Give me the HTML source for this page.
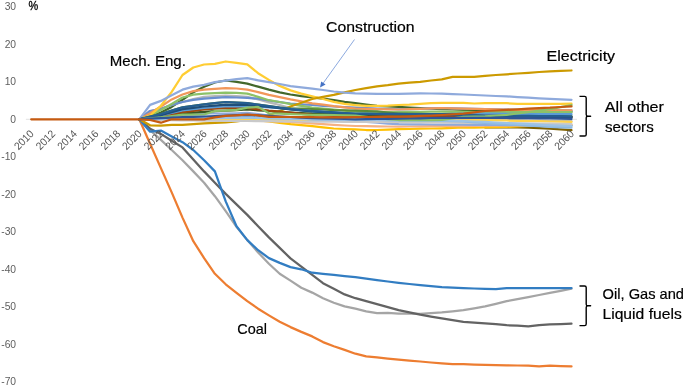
<!DOCTYPE html>
<html lang="en">
<head>
<meta charset="utf-8">
<title>Sector output chart</title>
<style>
html,body{margin:0;padding:0;background:#fff;}
body{width:685px;height:387px;overflow:hidden;}
svg{display:block;}
text{font-family:"Liberation Sans",sans-serif;}
.ax{font-size:10.3px;fill:#5e5e5e;}
.lb{font-size:15px;fill:#000;stroke:#000;stroke-width:0.2px;}
.ln{fill:none;stroke-linejoin:round;stroke-linecap:round;}
</style>
</head>
<body>
<svg width="685" height="387" viewBox="0 0 685 387">
<rect x="0" y="0" width="685" height="387" fill="#ffffff"/>
<line x1="25.9" y1="119.30" x2="577" y2="119.30" stroke="#D9D9D9" stroke-width="0.8"/>
<g class="ax" text-anchor="end">
<text x="16.1" y="10.30">30</text>
<text x="16.1" y="47.80">20</text>
<text x="16.1" y="85.30">10</text>
<text x="16.1" y="122.80">0</text>
<text x="16.1" y="160.30">-10</text>
<text x="16.1" y="197.80">-20</text>
<text x="16.1" y="235.30">-30</text>
<text x="16.1" y="272.80">-40</text>
<text x="16.1" y="310.30">-50</text>
<text x="16.1" y="347.80">-60</text>
<text x="16.1" y="385.30">-70</text>
</g>
<g class="ln">
<polyline stroke="#ED7D31" stroke-width="2.25" points="139.3,119.3 150.1,143.7 160.9,168.1 171.7,192.4 182.5,217.6 193.3,241.2 204.1,258.1 214.9,273.8 225.7,284.3 236.5,292.9 247.3,301.2 258.1,308.7 268.9,315.4 279.7,321.8 290.5,327.1 301.3,331.9 312.2,336.4 323.0,342.1 333.8,346.2 344.6,349.9 355.4,353.7 366.2,356.3 377.0,357.4 387.8,358.6 398.6,359.7 409.4,360.6 420.2,361.5 431.0,362.5 441.8,363.4 452.6,364.2 463.4,364.2 474.2,364.6 485.1,364.9 495.9,365.1 506.7,365.3 517.5,365.5 528.3,365.7 539.1,366.4 549.9,365.7 560.7,366.1 571.5,366.4"/>
<polyline stroke="#A5A5A5" stroke-width="2.25" points="139.3,119.3 150.1,130.2 160.9,139.9 171.7,150.0 182.5,160.2 193.3,171.4 204.1,182.7 214.9,196.2 225.7,211.2 236.5,226.9 247.3,240.1 258.1,252.4 268.9,263.7 279.7,273.8 290.5,280.6 301.3,287.7 312.2,292.6 323.0,298.2 333.8,302.7 344.6,306.4 355.4,308.7 366.2,311.3 377.0,313.2 387.8,312.8 398.6,313.6 409.4,313.7 420.2,313.9 431.0,313.2 441.8,312.4 452.6,311.3 463.4,310.2 474.2,308.3 485.1,306.4 495.9,303.8 506.7,301.2 517.5,299.1 528.3,297.1 539.1,295.0 549.9,292.9 560.7,290.8 571.5,288.6"/>
<polyline stroke="#636363" stroke-width="2.25" points="139.3,119.3 150.1,128.7 160.9,133.9 171.7,140.7 182.5,147.4 193.3,159.4 204.1,171.4 214.9,182.7 225.7,193.9 236.5,204.4 247.3,214.9 258.1,226.2 268.9,237.4 279.7,247.9 290.5,258.4 301.3,266.7 312.2,274.9 323.0,283.2 333.8,288.8 344.6,294.4 355.4,298.2 366.2,301.2 377.0,304.2 387.8,307.2 398.6,310.2 409.4,312.4 420.2,314.7 431.0,316.6 441.8,318.4 452.6,320.1 463.4,321.8 474.2,322.6 485.1,323.3 495.9,324.2 506.7,325.2 517.5,325.7 528.3,326.3 539.1,325.2 549.9,324.4 560.7,324.1 571.5,323.7"/>
<polyline stroke="#327DC2" stroke-width="2.25" points="139.3,119.3 150.1,131.7 160.9,130.6 171.7,136.4 182.5,142.2 193.3,150.0 204.1,160.2 214.9,171.4 225.7,201.4 236.5,226.2 247.3,240.1 258.1,250.2 268.9,258.1 279.7,262.9 290.5,267.1 301.3,269.3 312.2,272.7 323.0,273.8 333.8,274.9 344.6,276.1 355.4,277.2 366.2,278.7 377.0,280.2 387.8,281.5 398.6,282.8 409.4,284.0 420.2,285.2 431.0,286.2 441.8,287.1 452.6,287.7 463.4,288.2 474.2,288.5 485.1,288.8 495.9,289.2 506.7,288.1 517.5,288.1 528.3,288.1 539.1,288.1 549.9,288.1 560.7,288.1 571.5,288.1"/>
<polyline stroke="#7F6000" stroke-width="2.25" points="485.1,127.4 495.9,127.4 506.7,127.4 517.5,127.5 528.3,127.7 539.1,128.2 549.9,128.7 560.7,129.4 571.5,130.2"/>
<polyline stroke="#FFC000" stroke-width="2.25" points="139.3,119.3 150.1,119.5 160.9,119.7 171.7,119.7 182.5,119.7 193.3,119.7 204.1,119.8 214.9,119.8 225.7,119.8 236.5,119.8 247.3,119.9 258.1,120.4 268.9,121.4 279.7,122.9 290.5,124.2 301.3,125.1 312.2,126.2 323.0,127.4 333.8,128.5 344.6,129.0 355.4,129.4 366.2,130.0 377.0,130.0 387.8,129.6 398.6,129.2 409.4,129.0 420.2,128.7 431.0,128.5 441.8,128.3 452.6,127.9 463.4,127.5 474.2,127.5 485.1,127.4 495.9,127.1 506.7,126.8 517.5,126.4 528.3,126.0 539.1,125.9 549.9,125.7 560.7,125.5 571.5,125.3"/>
<polyline stroke="#43682B" stroke-width="2.25" points="139.3,119.3 150.1,116.3 160.9,112.5 171.7,106.9 182.5,99.8 193.3,92.3 204.1,86.7 214.9,82.5 225.7,80.5 236.5,81.8 247.3,83.7 258.1,86.7 268.9,89.7 279.7,92.3 290.5,94.5 301.3,96.2 312.2,97.4 323.0,98.7 333.8,100.2 344.6,101.9 355.4,103.2 366.2,104.5 377.0,105.8 387.8,106.4 398.6,106.9 409.4,107.5 420.2,108.0 431.0,108.6 441.8,109.2 452.6,109.5 463.4,109.9 474.2,110.1 485.1,110.3 495.9,110.5 506.7,110.7 517.5,110.9 528.3,111.0 539.1,111.2 549.9,111.4 560.7,111.6 571.5,111.8"/>
<polyline stroke="#B7B7B7" stroke-width="2.25" points="139.3,119.3 150.1,111.0 160.9,108.8 171.7,105.0 182.5,102.0 193.3,99.0 204.1,96.8 214.9,96.2 225.7,95.7 236.5,96.2 247.3,96.8 258.1,99.4 268.9,102.4 279.7,105.0 290.5,108.0 301.3,109.9 312.2,111.8 323.0,112.7 333.8,113.7 344.6,114.6 355.4,115.5 366.2,115.9 377.0,116.3 387.8,116.7 398.6,117.0 409.4,117.4 420.2,117.8 431.0,118.2 441.8,118.5 452.6,118.9 463.4,119.3 474.2,119.5 485.1,119.7 495.9,119.9 506.7,120.0 517.5,120.2 528.3,120.4 539.1,120.6 549.9,120.8 560.7,121.0 571.5,121.2"/>
<polyline stroke="#698ED0" stroke-width="2.25" points="139.3,119.3 150.1,111.0 160.9,108.8 171.7,105.0 182.5,102.0 193.3,99.8 204.1,98.7 214.9,97.9 225.7,97.2 236.5,97.5 247.3,97.9 258.1,98.7 268.9,100.5 279.7,102.2 290.5,103.5 301.3,104.3 312.2,105.0 323.0,105.8 333.8,106.5 344.6,107.1 355.4,107.7 366.2,108.1 377.0,108.6 387.8,109.0 398.6,109.4 409.4,109.1 420.2,108.8 431.0,108.4 441.8,108.0 452.6,108.3 463.4,108.6 474.2,108.8 485.1,109.0 495.9,109.3 506.7,109.5 517.5,109.8 528.3,110.1 539.1,110.2 549.9,110.2 560.7,110.3 571.5,110.3"/>
<polyline stroke="#F1975A" stroke-width="2.25" points="139.3,119.3 150.1,113.3 160.9,106.5 171.7,99.4 182.5,94.5 193.3,91.2 204.1,89.7 214.9,88.9 225.7,88.2 236.5,88.5 247.3,89.7 258.1,92.1 268.9,94.9 279.7,97.2 290.5,99.4 301.3,101.3 312.2,103.4 323.0,104.7 333.8,106.2 344.6,107.4 355.4,108.6 366.2,108.9 377.0,109.2 387.8,109.4 398.6,109.5 409.4,109.2 420.2,108.8 431.0,108.4 441.8,108.0 452.6,108.3 463.4,108.6 474.2,108.8 485.1,109.0 495.9,109.3 506.7,109.5 517.5,109.8 528.3,110.1 539.1,110.2 549.9,110.2 560.7,110.3 571.5,110.3"/>
<polyline stroke="#8CC168" stroke-width="2.25" points="139.3,119.3 150.1,115.5 160.9,110.1 171.7,103.9 182.5,97.5 193.3,94.7 204.1,93.6 214.9,93.2 225.7,92.7 236.5,92.9 247.3,93.6 258.1,96.8 268.9,100.2 279.7,102.0 290.5,104.1 301.3,105.8 312.2,107.5 323.0,108.5 333.8,109.5 344.6,110.6 355.4,111.6 366.2,111.8 377.0,112.0 387.8,112.0 398.6,112.0 409.4,111.9 420.2,111.8 431.0,111.7 441.8,111.6 452.6,111.8 463.4,111.9 474.2,112.0 485.1,112.2 495.9,112.1 506.7,112.1 517.5,112.0 528.3,112.0 539.1,112.0 549.9,112.1 560.7,112.1 571.5,112.2"/>
<polyline stroke="#FFCD33" stroke-width="2.25" points="139.3,119.3 150.1,115.5 160.9,105.8 171.7,91.9 182.5,75.0 193.3,67.5 204.1,64.5 214.9,63.8 225.7,61.5 236.5,62.9 247.3,64.4 258.1,73.2 268.9,79.9 279.7,85.9 290.5,90.4 301.3,93.6 312.2,96.4 323.0,99.0 333.8,101.9 344.6,103.9 355.4,105.2 366.2,105.8 377.0,105.8 387.8,105.6 398.6,105.0 409.4,104.7 420.2,103.9 431.0,103.2 441.8,102.8 452.6,102.8 463.4,102.8 474.2,103.5 485.1,103.2 495.9,103.2 506.7,103.2 517.5,103.9 528.3,103.9 539.1,103.9 549.9,103.9 560.7,103.8 571.5,103.7"/>
<polyline stroke="#CC9A00" stroke-width="2.25" points="139.3,119.3 150.1,125.3 160.9,125.7 171.7,124.9 182.5,124.9 193.3,124.2 204.1,123.4 214.9,122.9 225.7,122.3 236.5,121.4 247.3,120.0 258.1,118.2 268.9,115.2 279.7,111.0 290.5,106.5 301.3,102.8 312.2,99.0 323.0,96.8 333.8,94.9 344.6,92.3 355.4,90.0 366.2,88.2 377.0,86.3 387.8,85.2 398.6,83.7 409.4,82.7 420.2,81.8 431.0,80.5 441.8,79.4 452.6,76.9 463.4,76.9 474.2,76.9 485.1,75.8 495.9,75.0 506.7,74.3 517.5,73.5 528.3,72.8 539.1,72.0 549.9,71.3 560.7,70.9 571.5,70.5"/>
<polyline stroke="#8FAADC" stroke-width="2.25" points="139.3,119.3 150.1,104.9 160.9,100.9 171.7,95.3 182.5,89.7 193.3,86.7 204.1,84.8 214.9,82.2 225.7,80.7 236.5,79.2 247.3,78.2 258.1,80.3 268.9,82.2 279.7,84.0 290.5,86.1 301.3,87.4 312.2,88.7 323.0,90.0 333.8,91.5 344.6,92.7 355.4,93.4 366.2,93.6 377.0,93.8 387.8,93.8 398.6,93.8 409.4,93.6 420.2,93.4 431.0,93.5 441.8,93.6 452.6,94.1 463.4,94.5 474.2,95.0 485.1,95.5 495.9,96.0 506.7,96.4 517.5,97.1 528.3,97.7 539.1,98.3 549.9,98.9 560.7,99.3 571.5,99.8"/>
<polyline stroke="#5A8A39" stroke-width="2.25" points="139.3,119.3 150.1,116.7 160.9,114.0 171.7,110.7 182.5,107.3 193.3,105.8 204.1,104.3 214.9,103.2 225.7,102.0 236.5,102.6 247.3,103.2 258.1,104.7 268.9,106.2 279.7,107.7 290.5,108.4 301.3,108.6 312.2,109.0 323.0,109.5 333.8,110.1 344.6,110.4 355.4,110.7 366.2,111.0 377.0,111.4 387.8,112.5 398.6,113.5 409.4,113.7 420.2,113.9 431.0,114.0 441.8,114.0 452.6,114.4 463.4,114.8 474.2,115.2 485.1,115.5 495.9,115.6 506.7,115.7 517.5,115.8 528.3,115.9 539.1,116.0 549.9,116.1 560.7,116.2 571.5,116.3"/>
<polyline stroke="#F4B183" stroke-width="2.25" points="139.3,119.3 150.1,119.4 160.9,119.5 171.7,119.6 182.5,119.8 193.3,119.9 204.1,120.0 214.9,120.1 225.7,120.2 236.5,120.3 247.3,120.4 258.1,120.8 268.9,121.2 279.7,121.5 290.5,121.9 301.3,122.7 312.2,123.4 323.0,124.2 333.8,124.9 344.6,125.5 355.4,126.0 366.2,126.2 377.0,126.4 387.8,126.5 398.6,126.6 409.4,126.5 420.2,126.3 431.0,126.2 441.8,126.0 452.6,126.0 463.4,126.0 474.2,125.9 485.1,125.7 495.9,125.6 506.7,125.5 517.5,125.4 528.3,125.3 539.1,125.2 549.9,125.1 560.7,125.0 571.5,124.9"/>
<polyline stroke="#FFD34D" stroke-width="2.25" points="139.3,119.3 150.1,119.3 160.9,119.4 171.7,119.4 182.5,119.5 193.3,119.5 204.1,119.5 214.9,119.6 225.7,119.6 236.5,119.6 247.3,119.7 258.1,119.8 268.9,119.8 279.7,119.9 290.5,120.0 301.3,120.0 312.2,120.1 323.0,120.2 333.8,120.3 344.6,120.3 355.4,120.4 366.2,120.4 377.0,120.4 387.8,120.4 398.6,120.4 409.4,120.4 420.2,120.4 431.0,120.4 441.8,120.4 452.6,120.4 463.4,120.4 474.2,120.2 485.1,120.0 495.9,120.3 506.7,120.5 517.5,120.8 528.3,121.0 539.1,121.2 549.9,121.5 560.7,121.7 571.5,121.9"/>
<polyline stroke="#8FAADC" stroke-width="2.25" points="139.3,119.3 150.1,118.2 160.9,117.0 171.7,115.9 182.5,114.8 193.3,114.0 204.1,113.3 214.9,113.5 225.7,113.7 236.5,113.3 247.3,112.9 258.1,114.2 268.9,115.5 279.7,116.5 290.5,117.4 301.3,118.4 312.2,119.3 323.0,119.8 333.8,120.2 344.6,120.7 355.4,121.2 366.2,121.9 377.0,122.7 387.8,123.6 398.6,124.2 409.4,124.3 420.2,124.4 431.0,124.5 441.8,124.5 452.6,124.6 463.4,124.7 474.2,124.8 485.1,124.9 495.9,125.0 506.7,125.1 517.5,125.2 528.3,125.3 539.1,125.4 549.9,125.5 560.7,125.6 571.5,125.7"/>
<polyline stroke="#C9C9C9" stroke-width="2.25" points="139.3,119.3 150.1,119.6 160.9,119.9 171.7,120.1 182.5,120.4 193.3,120.5 204.1,120.6 214.9,120.7 225.7,120.8 236.5,120.9 247.3,121.0 258.1,121.1 268.9,121.2 279.7,121.3 290.5,121.4 301.3,121.5 312.2,121.5 323.0,121.6 333.8,121.7 344.6,121.8 355.4,121.9 366.2,121.9 377.0,121.9 387.8,121.9 398.6,121.9 409.4,122.1 420.2,122.2 431.0,122.3 441.8,122.5 452.6,122.6 463.4,122.8 474.2,122.9 485.1,123.0 495.9,123.1 506.7,123.2 517.5,123.3 528.3,123.4 539.1,123.6 549.9,123.7 560.7,123.8 571.5,124.0"/>
<polyline stroke="#8CB9E2" stroke-width="2.25" points="139.3,119.3 150.1,119.1 160.9,118.9 171.7,118.7 182.5,118.5 193.3,118.4 204.1,118.2 214.9,118.0 225.7,117.8 236.5,117.6 247.3,117.4 258.1,117.8 268.9,118.2 279.7,118.5 290.5,118.9 301.3,119.0 312.2,119.2 323.0,119.3 333.8,119.4 344.6,119.5 355.4,119.7 366.2,119.9 377.0,120.0 387.8,120.2 398.6,120.4 409.4,120.5 420.2,120.6 431.0,120.7 441.8,120.8 452.6,121.2 463.4,121.5 474.2,122.3 485.1,123.0 495.9,123.7 506.7,124.4 517.5,125.0 528.3,125.7 539.1,126.2 549.9,126.8 560.7,127.3 571.5,127.7"/>
<polyline stroke="#9DC3E6" stroke-width="2.25" points="139.3,119.3 150.1,119.1 160.9,118.9 171.7,118.7 182.5,118.5 193.3,118.4 204.1,118.2 214.9,118.0 225.7,117.8 236.5,117.6 247.3,117.4 258.1,117.8 268.9,118.2 279.7,118.5 290.5,118.9 301.3,119.0 312.2,119.2 323.0,119.3 333.8,119.4 344.6,119.5 355.4,119.7 366.2,119.9 377.0,120.0 387.8,120.2 398.6,120.4 409.4,120.4 420.2,120.4 431.0,120.4 441.8,120.4 452.6,120.7 463.4,121.0 474.2,121.5 485.1,121.9 495.9,122.5 506.7,123.0 517.5,123.6 528.3,124.2 539.1,124.7 549.9,125.3 560.7,125.7 571.5,126.0"/>
<polyline stroke="#385723" stroke-width="2.25" points="139.3,119.3 150.1,118.2 160.9,117.0 171.7,115.4 182.5,113.7 193.3,112.7 204.1,111.8 214.9,111.2 225.7,110.7 236.5,110.1 247.3,109.5 258.1,110.3 268.9,111.0 279.7,111.8 290.5,112.5 301.3,113.1 312.2,113.7 323.0,114.0 333.8,114.2 344.6,114.5 355.4,114.8 366.2,114.9 377.0,115.0 387.8,115.0 398.6,115.1 409.4,115.2 420.2,115.2 431.0,115.3 441.8,115.4 452.6,115.5 463.4,115.5 474.2,115.7 485.1,115.8 495.9,116.0 506.7,116.1 517.5,116.3 528.3,116.5 539.1,116.6 549.9,116.8 560.7,116.9 571.5,117.0"/>
<polyline stroke="#9E480E" stroke-width="2.25" points="139.3,119.3 150.1,117.8 160.9,116.3 171.7,114.2 182.5,112.2 193.3,110.8 204.1,109.4 214.9,108.7 225.7,108.0 236.5,107.7 247.3,108.0 258.1,109.4 268.9,110.7 279.7,111.7 290.5,112.7 301.3,113.8 312.2,114.8 323.0,115.4 333.8,115.9 344.6,116.5 355.4,117.0 366.2,117.0 377.0,116.9 387.8,116.8 398.6,116.8 409.4,116.7 420.2,116.6 431.0,116.5 441.8,116.5 452.6,116.4 463.4,116.3 474.2,116.4 485.1,116.5 495.9,116.5 506.7,116.6 517.5,116.7 528.3,116.8 539.1,116.8 549.9,116.9 560.7,117.0 571.5,117.0"/>
<polyline stroke="#5B9BD5" stroke-width="2.25" points="139.3,119.3 150.1,117.4 160.9,115.5 171.7,112.9 182.5,110.3 193.3,109.2 204.1,108.0 214.9,107.1 225.7,106.2 236.5,106.4 247.3,106.5 258.1,106.9 268.9,107.3 279.7,108.2 290.5,109.2 301.3,110.2 312.2,111.2 323.0,111.9 333.8,112.5 344.6,113.2 355.4,113.9 366.2,113.9 377.0,114.0 387.8,114.0 398.6,114.0 409.4,114.0 420.2,114.0 431.0,114.0 441.8,114.0 452.6,113.9 463.4,113.7 474.2,113.6 485.1,113.5 495.9,113.6 506.7,113.8 517.5,113.9 528.3,114.0 539.1,114.1 549.9,114.1 560.7,114.2 571.5,114.2"/>
<polyline stroke="#1F4E79" stroke-width="2.25" points="139.3,119.3 150.1,117.2 160.9,115.2 171.7,112.2 182.5,109.2 193.3,107.9 204.1,106.5 214.9,105.6 225.7,104.7 236.5,104.9 247.3,105.0 258.1,106.0 268.9,106.9 279.7,108.2 290.5,109.5 301.3,110.5 312.2,111.4 323.0,112.1 333.8,112.7 344.6,113.4 355.4,114.0 366.2,114.1 377.0,114.1 387.8,114.2 398.6,114.2 409.4,114.3 420.2,114.3 431.0,114.4 441.8,114.4 452.6,114.9 463.4,115.4 474.2,115.8 485.1,116.3 495.9,116.5 506.7,116.7 517.5,116.9 528.3,117.0 539.1,117.2 549.9,117.3 560.7,117.5 571.5,117.6"/>
<polyline stroke="#255E91" stroke-width="2.25" points="139.3,119.3 150.1,116.7 160.9,114.0 171.7,110.7 182.5,107.3 193.3,105.8 204.1,104.3 214.9,103.2 225.7,102.0 236.5,102.6 247.3,103.2 258.1,104.7 268.9,106.2 279.7,107.7 290.5,109.2 301.3,110.1 312.2,111.0 323.0,111.7 333.8,112.4 344.6,113.0 355.4,113.7 366.2,113.7 377.0,113.8 387.8,113.9 398.6,113.9 409.4,114.0 420.2,114.0 431.0,114.0 441.8,114.0 452.6,114.4 463.4,114.8 474.2,115.2 485.1,115.5 495.9,115.6 506.7,115.7 517.5,115.8 528.3,115.9 539.1,116.0 549.9,116.1 560.7,116.2 571.5,116.3"/>
<polyline stroke="#8CC168" stroke-width="2.25" points="139.3,119.3 150.1,118.4 160.9,117.4 171.7,116.0 182.5,114.6 193.3,114.6 204.1,114.5 214.9,111.0 225.7,110.7 236.5,109.9 247.3,107.7 258.1,106.9 268.9,113.3 279.7,113.7 290.5,114.2 301.3,114.5 312.2,114.8 323.0,114.9 333.8,115.0 344.6,115.3 355.4,115.5 366.2,116.9 377.0,118.2 387.8,119.1 398.6,120.0 409.4,120.0 420.2,120.0 431.0,120.0 441.8,119.9 452.6,118.4 463.4,116.8 474.2,116.6 485.1,116.3 495.9,115.5 506.7,114.8 517.5,113.5 528.3,112.2 539.1,110.7 549.9,109.2 560.7,107.1 571.5,105.0"/>
<polyline stroke="#2F5597" stroke-width="2.25" points="139.3,119.3 150.1,118.7 160.9,118.2 171.7,117.6 182.5,117.0 193.3,116.8 204.1,116.5 214.9,116.0 225.7,115.5 236.5,115.2 247.3,114.8 258.1,115.4 268.9,115.9 279.7,116.5 290.5,117.0 301.3,117.6 312.2,118.2 323.0,118.5 333.8,118.7 344.6,119.0 355.4,119.3 366.2,119.2 377.0,119.0 387.8,118.9 398.6,118.7 409.4,118.5 420.2,118.3 431.0,118.0 441.8,117.8 452.6,117.8 463.4,117.8 474.2,117.8 485.1,117.8 495.9,117.9 506.7,118.0 517.5,118.1 528.3,118.2 539.1,118.4 549.9,118.5 560.7,118.7 571.5,118.9"/>
<polyline stroke="#C55A11" stroke-width="2.25" points="31.2,119.3 139.3,119.3 150.1,120.0 160.9,122.7 171.7,119.3 182.5,119.3 193.3,119.3 204.1,119.3 214.9,117.4 225.7,115.9 236.5,115.3 247.3,114.5 258.1,115.3 268.9,116.8 279.7,116.9 290.5,117.0 301.3,117.1 312.2,117.2 323.0,117.3 333.8,117.4 344.6,117.3 355.4,117.1 366.2,117.0 377.0,116.9 387.8,116.7 398.6,116.6 409.4,116.3 420.2,115.9 431.0,115.5 441.8,115.0 452.6,114.3 463.4,113.7 474.2,112.4 485.1,111.0 495.9,110.5 506.7,109.9 517.5,109.3 528.3,108.6 539.1,108.1 549.9,107.7 560.7,107.0 571.5,106.4"/>
</g>
<g class="ax" text-anchor="end" style="font-size:10.8px;fill:#555">
<text transform="translate(34.50 134.40) rotate(-45)" textLength="22.6" lengthAdjust="spacingAndGlyphs">2010</text>
<text transform="translate(56.11 134.40) rotate(-45)" textLength="22.6" lengthAdjust="spacingAndGlyphs">2012</text>
<text transform="translate(77.72 134.40) rotate(-45)" textLength="22.6" lengthAdjust="spacingAndGlyphs">2014</text>
<text transform="translate(99.34 134.40) rotate(-45)" textLength="22.6" lengthAdjust="spacingAndGlyphs">2016</text>
<text transform="translate(120.95 134.40) rotate(-45)" textLength="22.6" lengthAdjust="spacingAndGlyphs">2018</text>
<text transform="translate(142.56 134.40) rotate(-45)" textLength="22.6" lengthAdjust="spacingAndGlyphs">2020</text>
<text transform="translate(164.17 134.40) rotate(-45)" textLength="22.6" lengthAdjust="spacingAndGlyphs">2022</text>
<text transform="translate(185.78 134.40) rotate(-45)" textLength="22.6" lengthAdjust="spacingAndGlyphs">2024</text>
<text transform="translate(207.40 134.40) rotate(-45)" textLength="22.6" lengthAdjust="spacingAndGlyphs">2026</text>
<text transform="translate(229.01 134.40) rotate(-45)" textLength="22.6" lengthAdjust="spacingAndGlyphs">2028</text>
<text transform="translate(250.62 134.40) rotate(-45)" textLength="22.6" lengthAdjust="spacingAndGlyphs">2030</text>
<text transform="translate(272.23 134.40) rotate(-45)" textLength="22.6" lengthAdjust="spacingAndGlyphs">2032</text>
<text transform="translate(293.84 134.40) rotate(-45)" textLength="22.6" lengthAdjust="spacingAndGlyphs">2034</text>
<text transform="translate(315.46 134.40) rotate(-45)" textLength="22.6" lengthAdjust="spacingAndGlyphs">2036</text>
<text transform="translate(337.07 134.40) rotate(-45)" textLength="22.6" lengthAdjust="spacingAndGlyphs">2038</text>
<text transform="translate(358.68 134.40) rotate(-45)" textLength="22.6" lengthAdjust="spacingAndGlyphs">2040</text>
<text transform="translate(380.29 134.40) rotate(-45)" textLength="22.6" lengthAdjust="spacingAndGlyphs">2042</text>
<text transform="translate(401.90 134.40) rotate(-45)" textLength="22.6" lengthAdjust="spacingAndGlyphs">2044</text>
<text transform="translate(423.52 134.40) rotate(-45)" textLength="22.6" lengthAdjust="spacingAndGlyphs">2046</text>
<text transform="translate(445.13 134.40) rotate(-45)" textLength="22.6" lengthAdjust="spacingAndGlyphs">2048</text>
<text transform="translate(466.74 134.40) rotate(-45)" textLength="22.6" lengthAdjust="spacingAndGlyphs">2050</text>
<text transform="translate(488.35 134.40) rotate(-45)" textLength="22.6" lengthAdjust="spacingAndGlyphs">2052</text>
<text transform="translate(509.96 134.40) rotate(-45)" textLength="22.6" lengthAdjust="spacingAndGlyphs">2054</text>
<text transform="translate(531.58 134.40) rotate(-45)" textLength="22.6" lengthAdjust="spacingAndGlyphs">2056</text>
<text transform="translate(553.19 134.40) rotate(-45)" textLength="22.6" lengthAdjust="spacingAndGlyphs">2058</text>
<text transform="translate(574.80 134.40) rotate(-45)" textLength="22.6" lengthAdjust="spacingAndGlyphs">2060</text>
</g>
<line x1="354.5" y1="39.5" x2="322" y2="84.8" stroke="#6F93D6" stroke-width="0.8"/>
<polygon points="320,87.6 321.2,81.4 325.6,84.6" fill="#4472C4"/>
<path d="M579.5 96.4 H584.6 Q586.2 96.4 586.2 98.0 V114.6 Q586.2 116.2 587.8 116.2 H590.6 H587.8 Q586.2 116.2 586.2 117.8 V134.4 Q586.2 136.0 584.6 136.0 H579.5" fill="none" stroke="#000" stroke-width="1.4" stroke-linejoin="round"/>
<path d="M579.5 286.0 H584.6 Q586.2 286.0 586.2 287.6 V304.2 Q586.2 305.8 587.8 305.8 H590.6 H587.8 Q586.2 305.8 586.2 307.4 V324.0 Q586.2 325.6 584.6 325.6 H579.5" fill="none" stroke="#000" stroke-width="1.4" stroke-linejoin="round"/>
<g class="lb">
<text x="28.4" y="9.8" style="font-size:12.4px" stroke="#000" stroke-width="0.3" textLength="9.7" lengthAdjust="spacingAndGlyphs">%</text>
<text x="109.80" y="66.40" textLength="76.01" lengthAdjust="spacingAndGlyphs">Mech. Eng.</text>
<text x="326.08" y="31.65" textLength="88.58" lengthAdjust="spacingAndGlyphs">Construction</text>
<text x="546.58" y="61.10" textLength="68.55" lengthAdjust="spacingAndGlyphs">Electricity</text>
<text x="604.81" y="111.90" textLength="59.15" lengthAdjust="spacingAndGlyphs">All other</text>
<text x="604.96" y="132.10" textLength="48.76" lengthAdjust="spacingAndGlyphs">sectors</text>
<text x="602.58" y="299.20" textLength="81.44" lengthAdjust="spacingAndGlyphs">Oil, Gas and</text>
<text x="602.46" y="319.40" textLength="79.29" lengthAdjust="spacingAndGlyphs">Liquid fuels</text>
<text x="237.24" y="333.50" textLength="29.68" lengthAdjust="spacingAndGlyphs">Coal</text>
</g>
</svg>
</body>
</html>
